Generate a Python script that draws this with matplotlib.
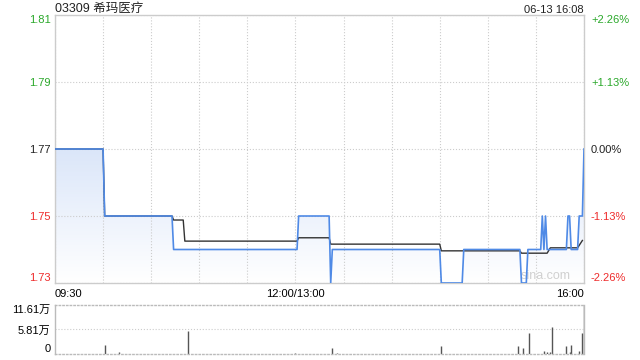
import numpy as np
import matplotlib.pyplot as plt
from matplotlib.colors import LinearSegmentedColormap
from matplotlib.patches import Polygon

plt.rcParams['font.family'] = ['Liberation Sans', 'Noto Sans CJK SC', 'DejaVu Sans']

# minutes since 09:30 (lunch break removed), price / average
price_t = [0, 30, 31, 73, 74, 151, 152, 171, 172, 173, 240, 241, 254, 255, 290, 291,
           294, 295, 303, 304, 305, 306, 307, 319, 320, 321, 322, 326, 327, 329, 330]
price_v = [1.77, 1.77, 1.75, 1.75, 1.74, 1.74, 1.75, 1.75, 1.73, 1.74, 1.74, 1.73, 1.73,
           1.74, 1.74, 1.73, 1.73, 1.74, 1.74, 1.75, 1.74, 1.75, 1.74, 1.74, 1.75, 1.75,
           1.74, 1.74, 1.75, 1.75, 1.77]
avg_t = [0, 30, 31, 73, 74, 80, 81, 151, 152, 171, 172, 240, 241, 290, 291,
         307, 309, 326, 329]
avg_v = [1.77, 1.77, 1.75, 1.75, 1.7488, 1.7488, 1.7425, 1.7425, 1.7435, 1.7435, 1.7416,
         1.7416, 1.7396, 1.7396, 1.7389, 1.7389, 1.7405, 1.7405, 1.7427]

vol_t = [31, 40, 83, 150, 173, 176, 241, 289, 292, 296, 305, 307, 309, 310, 319, 321,
         322, 327, 329, 330]
vol_v = [2.16, 0.5, 5.49, 0.2, 1.46, 0.3, 1.93, 1.97, 1.46, 4.95, 0.7, 0.5, 0.5, 6.35,
         1.93, 0.4, 2.2, 0.6, 4.95, 11.61]

prev_close = 1.77
y_ticks = [1.73, 1.75, 1.77, 1.79, 1.81]
pct_labels = ['-2.26%', '-1.13%', '0.00%', '+1.13%', '+2.26%']
x_labels = ['09:30', '', '', '', '', '12:00/13:00', '', '', '', '', '', '16:00']

green = '#2aa82a'
red = '#ee2b2b'
blue = '#4f8ae6'
grid_c = '#cccccc'
size = 8

fig = plt.figure(figsize=(6.4, 3.6), dpi=100)
ax = fig.add_axes([0.0859, 0.2139, 0.8266, 0.7444])
axv = fig.add_axes([0.0859, 0.0167, 0.8266, 0.1361])

ax.set_xlim(0, 330)
ax.set_ylim(1.73, 1.81)

# gradient fill under price line
cmap = LinearSegmentedColormap.from_list('fade', ['#dbe6f9', '#ffffff'])
grad = np.linspace(0, 1, 100).reshape(-1, 1)
im = ax.imshow(grad, extent=[0, 330, 1.73, 1.77], aspect='auto', cmap=cmap,
               origin='upper', zorder=1)
poly = Polygon(list(zip(price_t, price_v)) + [(330, 1.73), (0, 1.73)],
               closed=True, facecolor='none', edgecolor='none')
ax.add_patch(poly)
im.set_clip_path(poly)

ax.plot(avg_t, avg_v, color='#333333', linewidth=1.0, zorder=3)
ax.plot(price_t, price_v, color=blue, linewidth=1.2, zorder=4)

ax.set_xticks(np.arange(0, 331, 30))
ax.set_xticklabels(x_labels, fontsize=size)
ax.set_yticks(y_ticks)
ax.set_yticklabels(['%.2f' % v for v in y_ticks], fontsize=size)
ax.tick_params(length=0, pad=3)
ax.tick_params(axis='x', pad=4)
xl = ax.get_xticklabels()
xl[0].set_ha('left')
xl[-1].set_ha('right')
for lab, v in zip(ax.get_yticklabels(), y_ticks):
    lab.set_color(green if v > prev_close + 1e-9 else red if v < prev_close - 1e-9 else '#222222')
ylabs = ax.get_yticklabels()
ylabs[0].set_va('bottom')
ylabs[-1].set_va('top')

ax.grid(True, color=grid_c, linestyle=':', linewidth=0.8)
for s in ax.spines.values():
    s.set_color('#cccccc')
    s.set_linewidth(1)

ax2 = ax.twinx()
ax2.set_ylim(1.73, 1.81)
ax2.set_yticks(y_ticks)
ax2.set_yticklabels(pct_labels, fontsize=size)
ax2.tick_params(length=0, pad=5)
for lab, v in zip(ax2.get_yticklabels(), y_ticks):
    lab.set_color(green if v > prev_close + 1e-9 else red if v < prev_close - 1e-9 else '#222222')
r = ax2.get_yticklabels()
r[0].set_va('bottom')
r[-1].set_va('top')
for s in ax2.spines.values():
    s.set_visible(False)

ax.text(0, 1.0, '03309 希玛医疗', transform=ax.transAxes, fontsize=size + 1,
        ha='left', va='bottom', color='#222222')
ax.text(1.0, 1.0, '06-13 16:08', transform=ax.transAxes, fontsize=size,
        ha='right', va='bottom', color='#222222')
ax.text(0.975, 0.004, 'sina.com', transform=ax.transAxes, fontsize=size + 1,
        ha='right', va='bottom', color='#d0d0d0', zorder=2)

# volume panel
axv.set_xlim(0, 330)
axv.set_ylim(0, 11.61)
axv.vlines(vol_t, 0, vol_v, color='#555555', linewidth=1)
axv.set_xticks([])
axv.set_yticks([0, 5.81, 11.61])
axv.set_yticklabels(['0', '5.81万', '11.61万'], fontsize=size)
axv.tick_params(length=0, pad=3)
vl = axv.get_yticklabels()
vl[0].set_va('bottom')
vl[-1].set_va('top')
axv.axhline(5.81, color=grid_c, linestyle=':', linewidth=0.8)
axv.spines['top'].set_linestyle(':')
axv.spines['bottom'].set_linestyle(':')
for s in axv.spines.values():
    s.set_color('#bbbbbb')
    s.set_linewidth(1)

fig.savefig('out.png', dpi=100)
